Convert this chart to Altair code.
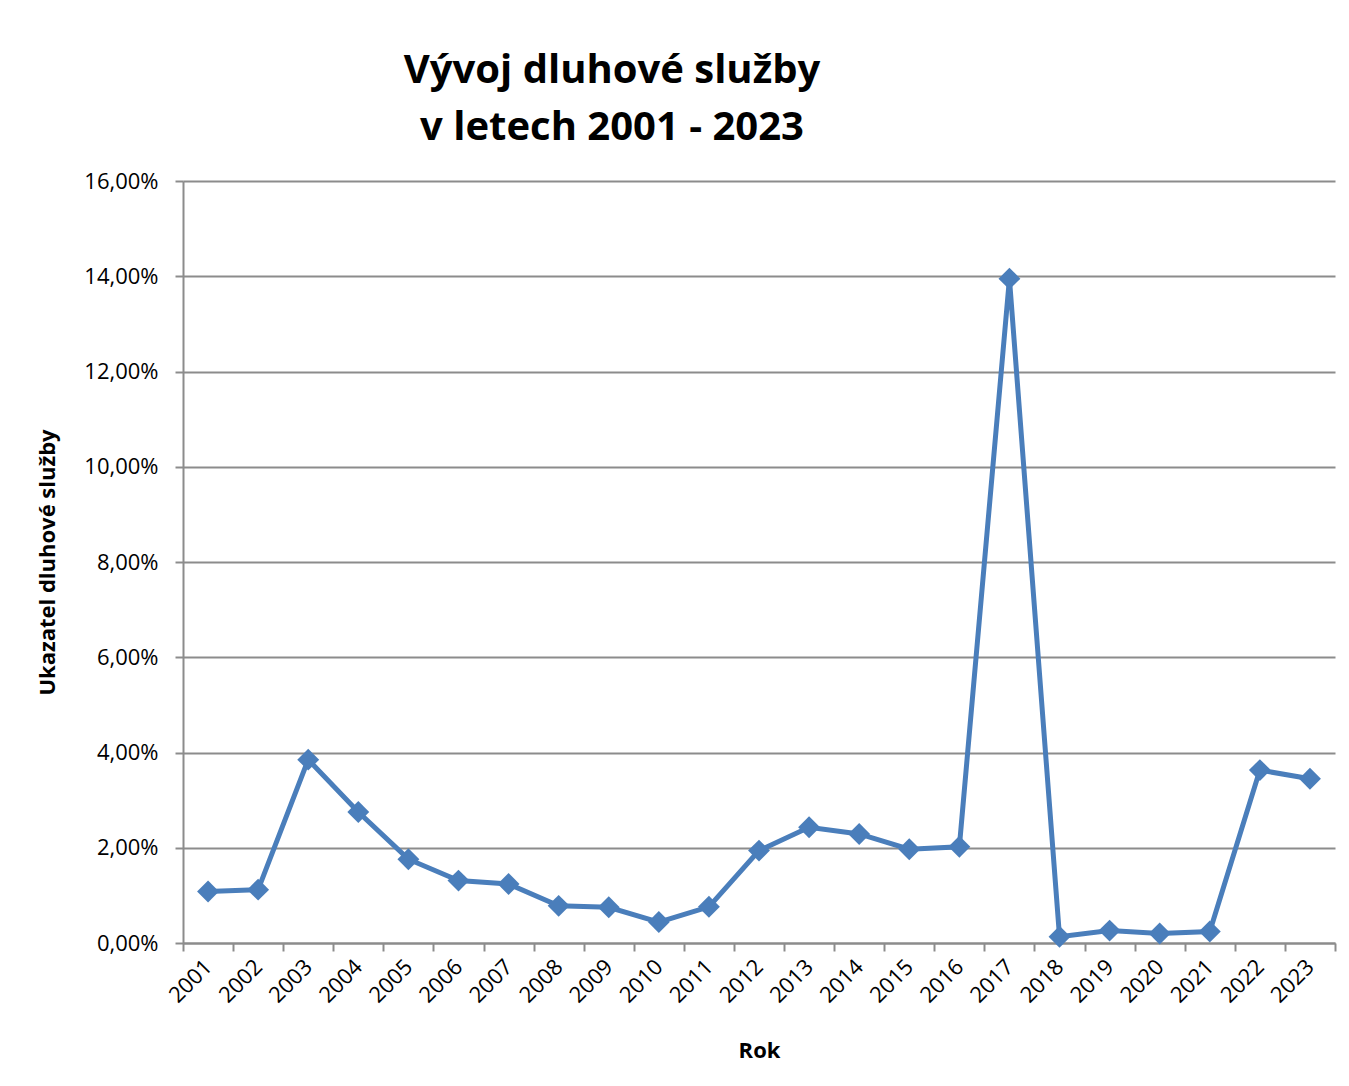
import altair as alt
import pandas as pd

years = [str(y) for y in range(2001, 2024)]
values = [1.08, 1.12, 3.85, 2.75, 1.76, 1.31, 1.24, 0.78, 0.75, 0.44, 0.76,
          1.94, 2.43, 2.29, 1.97, 2.02, 13.95, 0.13, 0.26, 0.20, 0.24, 3.63, 3.45]
y_ticks = [0, 2, 4, 6, 8, 10, 12, 14, 16]

df = pd.DataFrame({"Rok": years, "Ukazatel": values})

FONT = "Open Sans"
BLUE = "#4A7EBB"
GRID = "#8C8C8C"

base = alt.Chart(df).encode(
    x=alt.X("Rok:O", sort=years,
            scale=alt.Scale(paddingInner=0, paddingOuter=0),
            axis=alt.Axis(title="Rok", labelAngle=-45, labelAlign="right",
                          labelBaseline="middle", labelPadding=12,
                          tickBand="extent", tickExtra=True,
                          titlePadding=34, grid=False)),
    y=alt.Y("Ukazatel:Q",
            scale=alt.Scale(domain=[0, 16], nice=False, zero=True),
            axis=alt.Axis(title="Ukazatel dluhové služby", values=y_ticks,
                          labelExpr="replace(format(datum.value, '.2f'), '.', ',') + '%'",
                          labelPadding=17, titlePadding=24, grid=True)),
)

line = base.mark_line(color=BLUE, strokeWidth=5)
pts = base.mark_point(shape="diamond", filled=True, color=BLUE, size=480, opacity=1)

chart = (line + pts).properties(
    width=1152,
    height=762,
    background="white",
    autosize=alt.AutoSizeParams(type="none"),
    padding={"left": 175, "top": 173, "right": 6, "bottom": 130},
    title=alt.TitleParams(
        text=["Vývoj dluhové služby", "v letech 2001 - 2023"],
        anchor="middle", dx=-147, fontSize=40, font=FONT, fontWeight="bold",
        color="#000000", baseline="alphabetic", lineHeight=57, offset=-10,
    ),
).configure_axis(
    labelFont=FONT, titleFont=FONT, labelFontSize=22, titleFontSize=22,
    labelColor="#000000", titleColor="#000000", titleFontWeight="bold",
    domainColor=GRID, tickColor=GRID, gridColor=GRID, domainWidth=2,
    tickWidth=2, gridWidth=2, tickSize=8, gridOpacity=1,
).configure_view(stroke=None)

chart.save("out.html", embed_options={"renderer": "svg", "actions": False})
